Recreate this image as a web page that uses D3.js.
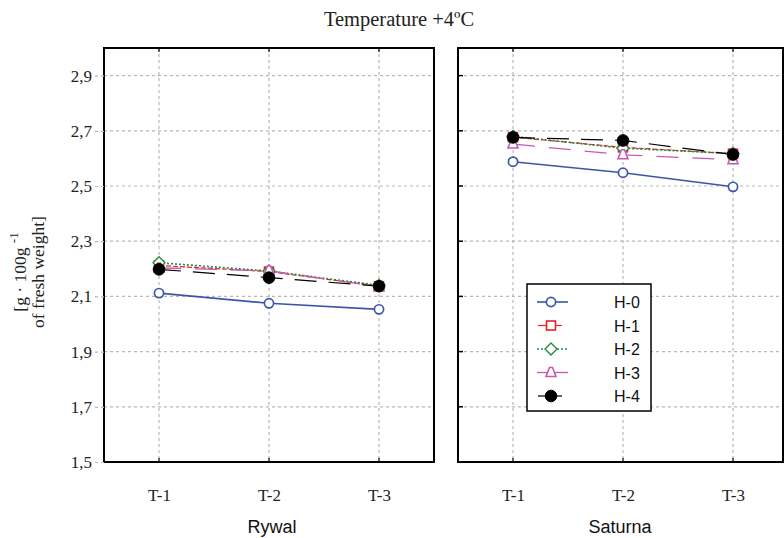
<!DOCTYPE html>
<html>
<head>
<meta charset="utf-8">
<script src="https://cdn.jsdelivr.net/npm/d3@7"></script>
<style>
  body { margin: 0; background: #fff; }
  svg { display: block; }
</style>
</head>
<body>
<svg id="chart" width="784" height="538"></svg>
<script>
// Storage times and panels (cultivars)
const terms = ["T-1", "T-2", "T-3"];
const cultivars = ["Rywal", "Saturna"];
const seriesNames = ["H-0", "H-1", "H-2", "H-3", "H-4"];
const yTicks = [1.5, 1.7, 1.9, 2.1, 2.3, 2.5, 2.7, 2.9];

// Content per cultivar, one row per series (H-0 .. H-4), values for T-1..T-3
const rywalH0 = [2.112, 2.075, 2.053];
const rywalH1 = [2.212, 2.190, 2.137];
const rywalH2 = [2.222, 2.192, 2.140];
const rywalH3 = [2.203, 2.193, 2.135];
const rywalH4 = [2.198, 2.168, 2.137];

const saturnaH0 = [2.588, 2.548, 2.497];
const saturnaH1 = [2.677, 2.640, 2.617];
const saturnaH2 = [2.680, 2.637, 2.618];
const saturnaH3 = [2.652, 2.613, 2.595];
const saturnaH4 = [2.676, 2.665, 2.614];

const panelValues = {
  Rywal: [rywalH0, rywalH1, rywalH2, rywalH3, rywalH4],
  Saturna: [saturnaH0, saturnaH1, saturnaH2, saturnaH3, saturnaH4]
};

// Series styling
const styles = [
  { color: "#3d55a8", dash: null, marker: "circle", fill: "#fff", width: 1.6 },
  { color: "#e8202a", dash: "5,2", marker: "square", fill: "#fff", width: 1.2 },
  { color: "#1e8a3c", dash: "2,2", marker: "diamond", fill: "#fff", width: 1.6 },
  { color: "#c25bb0", dash: "22,14", marker: "triangle", fill: "#fff", width: 1.3 },
  { color: "#000000", dash: "22,12", marker: "circle", fill: "#000", width: 1.2 }
];

const serif = "'Liberation Serif', 'Times New Roman', serif";
const sans = "'Liberation Sans', Arial, sans-serif";

const svg = d3.select("#chart");
const plotTop = 48, plotBottom = 462;
const panels = [
  { name: "Rywal", x0: 104, x1: 434, frameRight: 434 },
  { name: "Saturna", x0: 458, x1: 788, frameRight: 783 }
];

const y = d3.scaleLinear().domain([1.5, 3.0]).range([plotBottom, plotTop]);

function drawMarker(g, kind, cx, cy, st) {
  if (kind === "circle" && st.fill === "#000") {
    g.append("circle").attr("cx", cx).attr("cy", cy).attr("r", 5.8)
      .attr("fill", "#000").attr("stroke", "#000");
  } else if (kind === "circle") {
    g.append("circle").attr("cx", cx).attr("cy", cy).attr("r", 4.6)
      .attr("fill", "#fff").attr("stroke", st.color).attr("stroke-width", 1.7);
  } else if (kind === "square") {
    g.append("rect").attr("x", cx - 4.5).attr("y", cy - 4.5).attr("width", 9).attr("height", 9)
      .attr("fill", "#fff").attr("stroke", st.color).attr("stroke-width", 1.6);
  } else if (kind === "diamond") {
    g.append("path").attr("d", `M${cx},${cy - 6}L${cx + 6},${cy}L${cx},${cy + 6}L${cx - 6},${cy}Z`)
      .attr("fill", "#fff").attr("stroke", st.color).attr("stroke-width", 1.3);
  } else if (kind === "triangle") {
    g.append("path").attr("d", `M${cx - 1.5},${cy - 5}L${cx + 1.5},${cy - 5}L${cx + 5},${cy + 4}L${cx - 5},${cy + 4}Z`)
      .attr("fill", "#fff").attr("stroke", st.color).attr("stroke-width", 1.6);
  }
}

panels.forEach((p, pi) => {
  const x = d3.scalePoint().domain(terms).range([p.x0, p.x1]).padding(0.5);
  const g = svg.append("g");

  // dotted grid
  g.selectAll(".hg").data(yTicks.filter(v => v > 1.5)).enter().append("line")
    .attr("x1", p.x0).attr("x2", p.frameRight).attr("y1", d => y(d)).attr("y2", d => y(d))
    .attr("stroke", "#b8b8b8").attr("stroke-width", 1.2).attr("stroke-dasharray", "3,3");
  g.selectAll(".vg").data(terms).enter().append("line")
    .attr("x1", d => x(d)).attr("x2", d => x(d)).attr("y1", plotTop).attr("y2", plotBottom)
    .attr("stroke", "#b8b8b8").attr("stroke-width", 1.2).attr("stroke-dasharray", "3,3");

  // y axis on the first panel
  if (pi === 0) {
    const ya = d3.axisLeft(y).tickValues(yTicks).tickSize(10).tickPadding(2)
      .tickFormat(d => d3.format(".1f")(d).replace(".", ","));
    const ag = svg.append("g").attr("transform", `translate(${p.x0},0)`).call(ya);
    ag.select(".domain").remove();
    ag.selectAll(".tick line").attr("stroke", "#b8b8b8").attr("stroke-dasharray", "3,3").attr("stroke-width", 1.2);
    ag.selectAll(".tick text").attr("font-family", serif)
      .attr("font-size", 17).attr("fill", "#222");
  } else {
    // inward ticks on the left border
    g.selectAll(".yt").data(yTicks.filter(v => v > 1.5)).enter().append("line")
      .attr("x1", p.x0 - 1).attr("x2", p.x0 + 5).attr("y1", d => y(d)).attr("y2", d => y(d))
      .attr("stroke", "#000").attr("stroke-width", 1.5);
  }

  // x axis labels
  const xa = d3.axisBottom(x).tickSize(0).tickPadding(27);
  const xg = svg.append("g").attr("transform", `translate(0,${plotBottom})`).call(xa);
  xg.select(".domain").remove();
  xg.selectAll(".tick text").attr("font-family", serif)
    .attr("font-size", 17).attr("fill", "#222");

  // small inward ticks at top and bottom
  g.selectAll(".bt").data(terms).enter().append("line")
    .attr("x1", d => x(d)).attr("x2", d => x(d)).attr("y1", plotBottom).attr("y2", plotBottom - 4)
    .attr("stroke", "#000").attr("stroke-width", 1.2);
  g.selectAll(".tt").data(terms).enter().append("line")
    .attr("x1", d => x(d)).attr("x2", d => x(d)).attr("y1", plotTop).attr("y2", plotTop + 4)
    .attr("stroke", "#000").attr("stroke-width", 1.2);

  // series lines
  const vals = panelValues[p.name];
  const line = d3.line().x((d, i) => x(terms[i])).y(d => y(d));
  vals.forEach((s, si) => {
    const st = styles[si];
    g.append("path").attr("d", line(s)).attr("fill", "none")
      .attr("stroke", st.color).attr("stroke-width", st.width)
      .attr("stroke-dasharray", st.dash);
  });
  vals.forEach((s, si) => {
    const st = styles[si];
    s.forEach((v, i) => drawMarker(g, st.marker, x(terms[i]), y(v), st));
  });

  // frame
  g.append("rect").attr("x", p.x0).attr("y", plotTop).attr("width", p.frameRight - p.x0).attr("height", plotBottom - plotTop)
    .attr("fill", "none").attr("stroke", "#000").attr("stroke-width", 2);

  // cultivar label
  svg.append("text").attr("x", pi === 1 ? 620 : 272).attr("y", 533)
    .attr("text-anchor", "middle").attr("font-family", sans)
    .attr("font-size", 18).attr("fill", "#111").text(p.name);
});

// title
svg.append("text").attr("x", 399).attr("y", 26).attr("text-anchor", "middle")
  .attr("font-family", serif).attr("font-size", 20.5)
  .attr("fill", "#222").text("Temperature +4ºC");

// y axis title
const yt = svg.append("text").attr("transform", "translate(0,272) rotate(-90)")
  .attr("text-anchor", "middle").attr("font-family", serif)
  .attr("font-size", 17.5).attr("fill", "#222");
yt.append("tspan").attr("x", 0).attr("y", 26).text("[g · 100g ");
yt.append("tspan").attr("dy", -8).attr("font-size", 13).text("-1");
yt.append("tspan").attr("x", 0).attr("y", 44).text("of fresh weight]");

// legend
const lg = svg.append("g");
lg.append("rect").attr("x", 527).attr("y", 284).attr("width", 124).attr("height", 127)
  .attr("fill", "#fff").attr("stroke", "#000").attr("stroke-width", 1.5);
seriesNames.forEach((name, i) => {
  const st = styles[i];
  const cy = 302 + i * 23.5;
  const len = (i === 1 || i === 4) ? [538, 562] : [537, 568];
  lg.append("line").attr("x1", len[0]).attr("x2", len[1]).attr("y1", cy).attr("y2", cy)
    .attr("stroke", st.color).attr("stroke-width", st.width)
    .attr("stroke-dasharray", i === 2 ? "2,2" : null);
  drawMarker(lg, st.marker, 551, cy, st);
  lg.append("text").attr("x", 614).attr("y", cy + 6)
    .attr("font-family", sans).attr("font-size", 16)
    .attr("fill", "#111").text(name);
});
</script>
</body>
</html>
